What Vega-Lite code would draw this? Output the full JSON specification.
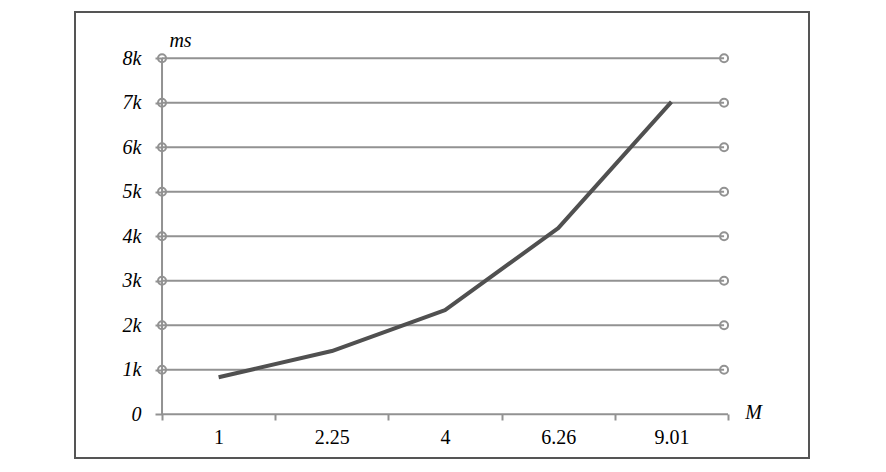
{
  "$schema": "https://vega.github.io/schema/vega-lite/v6.json",
  "width": 734,
  "height": 446,
  "autosize": {"type": "none"},
  "padding": {"left": 75, "top": 12, "right": 77, "bottom": 14},
  "background": "white",
  "config": {
    "view": {"stroke": "#555555", "strokeWidth": 2},
    "font": "Liberation Serif"
  },
  "datasets": {
    "grid": [{"g": 1000}, {"g": 2000}, {"g": 3000}, {"g": 4000}, {"g": 5000}, {"g": 6000}, {"g": 7000}, {"g": 8000}],
    "series": [
      {"M": "1", "ms": 830},
      {"M": "2.25", "ms": 1420},
      {"M": "4", "ms": 2340},
      {"M": "6.26", "ms": 4180},
      {"M": "9.01", "ms": 7020}
    ]
  },
  "layer": [
    {
      "data": {"name": "grid"},
      "mark": {"type": "rule", "color": "#929292", "strokeWidth": 2},
      "encoding": {
        "x": {
          "datum": "1", "type": "ordinal", "bandPosition": 0,
          "scale": {"domain": ["1", "2.25", "4", "6.26", "9.01"], "type": "band", "paddingInner": 0, "paddingOuter": 0.742, "align": 0.518},
          "axis": {
            "orient": "bottom", "offset": -44, "domain": false, "grid": false,
            "tickBand": "extent", "tickSize": 6, "tickWidth": 2, "tickColor": "#929292",
            "labelAngle": 0, "labelFont": "Liberation Serif", "labelFontSize": 20, "labelColor": "#000000", "labelPadding": 7,
            "title": "M", "titleFont": "Liberation Serif", "titleFontStyle": "italic", "titleFontWeight": "normal", "titleFontSize": 20, "titleColor": "#000000",
            "titleX": 678, "titleY": 4, "titleAlign": "center", "titleBaseline": "alphabetic", "titleAngle": 0
          }
        },
        "x2": {"datum": "9.01", "bandPosition": 0.965},
        "y": {
          "field": "g", "type": "quantitative",
          "scale": {"domain": [-984, 9038], "nice": false, "zero": false},
          "axis": {
            "orient": "left", "offset": -87, "domain": false, "grid": false,
            "values": [0, 1000, 2000, 3000, 4000, 5000, 6000, 7000, 8000],
            "labelExpr": "datum.value == 0 ? '0' : (datum.value / 1000) + 'k'",
            "tickSize": 7, "tickWidth": 2, "tickColor": "#929292",
            "labelFont": "Liberation Serif", "labelFontStyle": "italic", "labelFontSize": 20, "labelColor": "#000000", "labelPadding": 14,
            "title": "ms", "titleFont": "Liberation Serif", "titleFontStyle": "italic", "titleFontWeight": "normal", "titleFontSize": 20, "titleColor": "#000000",
            "titleX": 18, "titleY": 34, "titleAlign": "center", "titleBaseline": "alphabetic", "titleAngle": 0
          }
        }
      }
    },
    {
      "data": {"values": [{"base": 0}]},
      "mark": {"type": "rule", "color": "#929292", "strokeWidth": 2},
      "encoding": {
        "x": {"datum": "1", "type": "ordinal", "bandPosition": 0},
        "x2": {"datum": "9.01", "bandPosition": 1},
        "y": {"field": "base", "type": "quantitative"}
      }
    },
    {
      "data": {"values": [{"lo": 0, "hi": 8000}]},
      "mark": {"type": "rule", "color": "#929292", "strokeWidth": 2},
      "encoding": {
        "x": {"datum": "1", "type": "ordinal", "bandPosition": 0},
        "y": {"field": "lo", "type": "quantitative"},
        "y2": {"field": "hi"}
      }
    },
    {
      "data": {"name": "grid"},
      "mark": {"type": "point", "shape": "circle", "filled": false, "stroke": "#929292", "strokeWidth": 2, "size": 64, "opacity": 1},
      "encoding": {
        "x": {"datum": "1", "type": "ordinal", "bandPosition": 0},
        "y": {"field": "g", "type": "quantitative"}
      }
    },
    {
      "data": {"name": "grid"},
      "mark": {"type": "point", "shape": "circle", "filled": false, "stroke": "#929292", "strokeWidth": 2, "size": 64, "opacity": 1},
      "encoding": {
        "x": {"datum": "9.01", "type": "ordinal", "bandPosition": 0.965},
        "y": {"field": "g", "type": "quantitative"}
      }
    },
    {
      "data": {"name": "series"},
      "mark": {"type": "line", "color": "#505050", "strokeWidth": 4, "strokeCap": "butt", "strokeJoin": "round"},
      "encoding": {
        "x": {"field": "M", "type": "ordinal", "sort": null},
        "y": {"field": "ms", "type": "quantitative"}
      }
    }
  ]
}
